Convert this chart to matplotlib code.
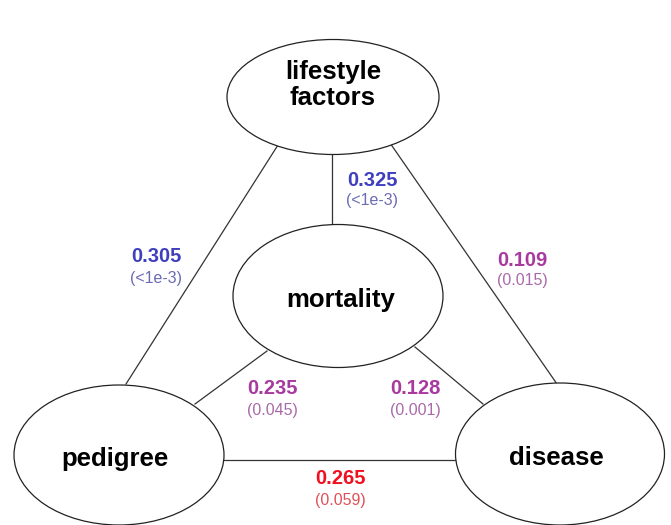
import matplotlib
matplotlib.use('Agg')
from matplotlib import pyplot as plt
from matplotlib.patches import Ellipse

plt.rcParams['font.family'] = ['Liberation Sans', 'DejaVu Sans']

# nodes: name, label, center (px), size (px), label position
nodes = ['lifestyle', 'mortality', 'pedigree', 'disease']
nodeLabels = ['lifestyle\nfactors', 'mortality', 'pedigree', 'disease']
nodeCenters = [(333, 97), (338, 296), (119, 455), (560, 454)]
nodeSizes = [(212, 115), (210, 143), (210, 140), (209, 142)]
nodeTextPos = [(333, 85), (341, 300), (115, 459), (556, 458)]

# edges: from, to, coefficient, p value, end points on each ellipse, label position
edgeFrom = ['lifestyle', 'lifestyle', 'lifestyle', 'mortality', 'mortality', 'pedigree']
edgeTo = ['mortality', 'pedigree', 'disease', 'pedigree', 'disease', 'disease']
coefs = ['0.325', '0.305', '0.109', '0.235', '0.128', '0.265']
pvals = ['(<1e-3)', '(<1e-3)', '(0.015)', '(0.045)', '(0.001)', '(0.059)']
edgeStart = [(332, 154), (278, 145), (390, 143), (267, 351), (415, 347), (224, 460)]
edgeEnd = [(332, 225), (126, 384), (557, 384), (195, 404), (483, 404), (455, 460)]
labelPos = [(372, 180), (156, 257), (522, 260), (272, 389), (415, 389), (340, 479)]

coefColors = ['#3f3fbf', '#3f3fbf', '#a8399f', '#a8399f', '#a8399f', '#f01020']
pColors = ['#6b6bb5', '#6b6bb5', '#a86aa8', '#a86aa8', '#a86aa8', '#e0505a']

fig = plt.figure(figsize=(6.71, 5.25), dpi=100)
ax = fig.add_axes([0, 0, 1, 1])
ax.set_xlim(0, 671)
ax.set_ylim(525, 0)
ax.axis('off')

for i in range(len(coefs)):
	x0, y0 = edgeStart[i]
	x1, y1 = edgeEnd[i]
	ax.plot([x0, x1], [y0, y1], color='#333333', lw=0.9, zorder=1)
	lx, ly = labelPos[i]
	ax.text(lx, ly, coefs[i], color=coefColors[i], fontsize=14.5, fontweight='bold', ha='center', va='center', zorder=3)
	ax.text(lx, ly + 21, pvals[i], color=pColors[i], fontsize=11.5, ha='center', va='center', zorder=3)

for i in range(len(nodes)):
	cx, cy = nodeCenters[i]
	w, h = nodeSizes[i]
	ax.add_patch(Ellipse((cx, cy), w, h, facecolor='white', edgecolor='#222222', lw=0.9, zorder=2))
	tx, ty = nodeTextPos[i]
	ax.text(tx, ty, nodeLabels[i], fontsize=18.5, fontweight='bold', ha='center', va='center', linespacing=1.12, zorder=3)

fig.savefig('out.png', dpi=100)
